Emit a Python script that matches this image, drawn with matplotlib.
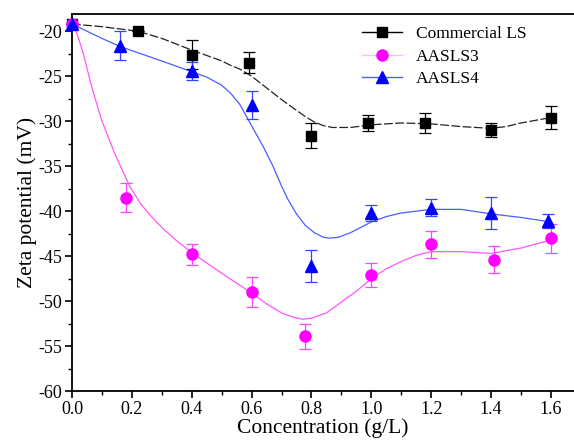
import matplotlib
matplotlib.use("Agg")
import matplotlib.pyplot as plt
from matplotlib.lines import Line2D
from matplotlib.ticker import MultipleLocator

plt.rcParams['font.family'] = ['Liberation Serif', 'DejaVu Serif']
plt.rcParams['axes.unicode_minus'] = False

# measured points (concentration g/L, zeta mV, error)
ls_x = [0.0, 0.22, 0.40, 0.59, 0.80, 0.99, 1.18, 1.40, 1.60]
ls_y = [-19.2, -20.0, -22.6, -23.5, -31.6, -30.2, -30.2, -31.0, -29.6]
ls_err = [0.0, 0.0, 1.6, 1.2, 1.4, 0.9, 1.1, 0.8, 1.3]

s3_x = [0.0, 0.18, 0.40, 0.60, 0.78, 1.00, 1.20, 1.41, 1.60]
s3_y = [-19.2, -38.5, -44.8, -49.0, -53.9, -47.1, -43.7, -45.4, -43.0]
s3_err = [0.0, 1.6, 1.2, 1.7, 1.4, 1.3, 1.5, 1.5, 1.6]

s4_x = [0.0, 0.16, 0.40, 0.60, 0.80, 1.00, 1.20, 1.40, 1.59]
s4_y = [-19.2, -21.6, -24.4, -28.2, -46.1, -40.2, -39.6, -40.2, -41.1]
s4_err = [0.0, 1.6, 1.0, 1.6, 1.8, 0.9, 0.9, 1.8, 0.8]

# smooth fit curves
ls_cx = [0.0, 0.1, 0.22, 0.3, 0.4, 0.5, 0.53, 0.56, 0.6, 0.65, 0.7, 0.75, 0.78,
         0.81, 0.84, 0.87, 0.93, 1.0, 1.1, 1.2, 1.3, 1.4, 1.45, 1.5, 1.55, 1.6]
ls_cy = [-19.2, -19.5, -20.0, -20.8, -22.1, -23.3, -23.8, -24.2, -25.0, -26.3,
         -27.6, -28.8, -29.5, -30.1, -30.5, -30.7, -30.7, -30.4, -30.2, -30.3,
         -30.6, -30.8, -30.6, -30.2, -29.9, -29.6]

s3_cx = [0.0, 0.01, 0.038, 0.066, 0.099, 0.144, 0.194, 0.23, 0.26, 0.3, 0.35,
         0.4, 0.5, 0.6, 0.65, 0.7, 0.74, 0.77, 0.8, 0.85, 0.9, 0.95, 1.0, 1.05,
         1.1, 1.15, 1.2, 1.3, 1.4, 1.5, 1.6]
s3_cy = [-19.2, -19.6, -22.5, -26.2, -29.9, -33.7, -37.3, -39.2, -40.4, -41.8,
         -43.3, -44.6, -46.9, -49.1, -50.3, -51.3, -51.8, -52.0, -51.9, -51.3,
         -50.1, -48.9, -47.5, -46.4, -45.6, -44.9, -44.5, -44.5, -44.7, -44.1,
         -43.2]

s4_cx = [0.0, 0.1, 0.16, 0.29, 0.4, 0.45, 0.5, 0.53, 0.56, 0.58, 0.61, 0.64,
         0.67, 0.7, 0.72, 0.75, 0.78, 0.81, 0.84, 0.86, 0.89, 0.93, 1.0, 1.05,
         1.1, 1.2, 1.3, 1.4, 1.5, 1.6]
s4_cy = [-19.2, -20.8, -21.7, -23.2, -24.5, -25.1, -26.0, -26.9, -28.1, -29.3,
         -31.1, -32.9, -34.9, -37.2, -38.6, -40.3, -41.6, -42.4, -42.9, -43.0,
         -42.9, -42.4, -41.2, -40.6, -40.2, -39.8, -39.8, -40.3, -40.7, -41.2]

labels = ['Commercial LS', 'AASLS3', 'AASLS4']

fig = plt.figure(figsize=(5.74, 4.40), dpi=100)
ax = fig.add_axes([0.1254, 0.111, 0.874, 0.857])

ax.plot(ls_cx, ls_cy, color='#222222', lw=0.9, ls=(0, (7, 2)), clip_on=False)
ax.plot(s3_cx, s3_cy, color='#ff55ff', lw=0.9, clip_on=False)
ax.plot(s4_cx, s4_cy, color='#4d5cff', lw=0.9, clip_on=False)

ax.errorbar(ls_x, ls_y, yerr=ls_err, fmt='s', color='black', ms=7,
            ecolor='black', elinewidth=0.9, capsize=4, capthick=0.9, clip_on=False, zorder=4)
ax.errorbar(s3_x, s3_y, yerr=s3_err, fmt='o', color='#ff00ff', ms=8,
            ecolor='#ff44ff', elinewidth=0.9, capsize=4, capthick=0.9, clip_on=False, zorder=4)
ax.errorbar(s4_x, s4_y, yerr=s4_err, fmt='^', color='#0000ff', ms=8.5,
            ecolor='#3344ff', elinewidth=0.9, capsize=4, capthick=0.9, clip_on=False, zorder=4)

ax.set_xlim(0, 1.676)
ax.set_ylim(-60, -18.1)
ax.xaxis.set_major_locator(MultipleLocator(0.2))
ax.xaxis.set_minor_locator(MultipleLocator(0.1))
ax.yaxis.set_major_locator(MultipleLocator(5))
ax.yaxis.set_minor_locator(MultipleLocator(2.5))
ax.xaxis.set_major_formatter(matplotlib.ticker.FormatStrFormatter('%.1f'))
ax.tick_params(which='major', direction='out', length=5, width=1.2, labelsize=13, pad=2)
ax.tick_params(which='minor', direction='out', length=3, width=1.0)
for sp in ax.spines.values():
    sp.set_linewidth(1.3)
ax.spines['right'].set_visible(False)

ax.set_xlabel('Concentration (g/L)', fontsize=15.5, labelpad=0)
ax.set_ylabel('Zeta potential (mV)', fontsize=15.5, labelpad=1)

handles = [
    Line2D([], [], color='black', marker='s', ms=7, lw=1.0),
    Line2D([], [], color='#ffbbff', marker='o', mfc='#ff00ff', mec='#ff00ff', ms=8, lw=1.0),
    Line2D([], [], color='#4d5cff', marker='^', mfc='#0000ff', mec='#0000ff', ms=8.5, lw=1.0),
]
ax.legend(handles, labels, loc='upper right', bbox_to_anchor=(0.93, 1.0), frameon=False,
          fontsize=12.5, handlelength=2.3, labelspacing=0.35, borderaxespad=0.3)

fig.savefig('out.png', dpi=100)
